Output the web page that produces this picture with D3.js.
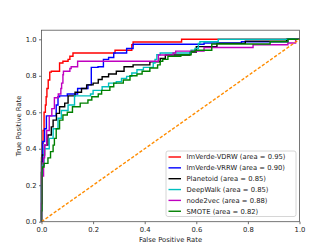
<!DOCTYPE html>
<meta charset="utf-8">
<script src="https://d3js.org/d3.v7.min.js"></script>
<style>
  body { margin: 0; background: #fff; }
  text { font-family: "DejaVu Sans", sans-serif; fill: #222; }
</style>
<div id="roc"></div>
<script>

// ROC points (false positive rate / true positive rate)
var vdrwFpr = [0, 0, 0.003, 0.006, 0.01, 0.015, 0.018, 0.021, 0.026, 0.032, 0.038, 0.07, 0.083, 0.103, 0.11, 0.122, 0.167, 0.285, 0.29, 0.35, 0.355, 0.37, 0.543, 0.545, 1];
var vdrwTpr = [0, 0.2, 0.35, 0.43, 0.5, 0.6, 0.64, 0.685, 0.73, 0.777, 0.82, 0.825, 0.87, 0.88, 0.89, 0.907, 0.925, 0.925, 0.94, 0.94, 0.97, 0.985, 0.985, 1, 1];

var vrrwFpr = [0, 0, 0.005, 0.012, 0.019, 0.032, 0.057, 0.064, 0.07, 0.1, 0.14, 0.18, 0.193, 0.193, 0.219, 0.24, 0.24, 0.26, 0.28, 0.33, 0.355, 0.37, 0.63, 0.635, 0.775, 0.78, 0.955, 0.96, 1];
var vrrwTpr = [0, 0.22, 0.33, 0.44, 0.51, 0.58, 0.58, 0.64, 0.685, 0.69, 0.7, 0.73, 0.75, 0.8, 0.846, 0.85, 0.88, 0.89, 0.9, 0.925, 0.95, 0.973, 0.973, 0.98, 0.98, 0.987, 0.987, 1, 1];

var planetoidFpr = [0, 0.001, 0.012, 0.025, 0.038, 0.045, 0.058, 0.07, 0.09, 0.103, 0.103, 0.13, 0.155, 0.175, 0.2, 0.22, 0.235, 0.26, 0.29, 0.32, 0.355, 0.42, 0.46, 0.48, 0.575, 0.588, 0.6, 0.605, 0.68, 0.68, 0.79, 0.795, 0.95, 0.955, 1];
var planetoidTpr = [0, 0.27, 0.366, 0.42, 0.475, 0.52, 0.557, 0.594, 0.63, 0.65, 0.69, 0.69, 0.71, 0.73, 0.75, 0.76, 0.78, 0.795, 0.81, 0.825, 0.85, 0.86, 0.877, 0.895, 0.914, 0.93, 0.93, 0.96, 0.96, 0.978, 0.978, 0.99, 0.99, 1, 1];

var deepwalkFpr = [0, 0.002, 0.01, 0.03, 0.045, 0.064, 0.077, 0.103, 0.103, 0.128, 0.128, 0.19, 0.2, 0.235, 0.26, 0.29, 0.31, 0.33, 0.35, 0.37, 0.395, 0.433, 0.44, 0.447, 0.46, 0.472, 0.58, 0.595, 0.608, 0.614, 0.627, 0.685, 0.686, 1];
var deepwalkTpr = [0, 0.2, 0.31, 0.4, 0.457, 0.51, 0.567, 0.61, 0.64, 0.64, 0.69, 0.69, 0.7, 0.72, 0.74, 0.76, 0.767, 0.786, 0.797, 0.815, 0.833, 0.846, 0.87, 0.89, 0.915, 0.925, 0.925, 0.94, 0.95, 0.978, 0.987, 0.987, 1, 1];

var node2vecFpr = [0, 0.003, 0.008, 0.012, 0.02, 0.03, 0.04, 0.05, 0.065, 0.075, 0.078, 0.083, 0.085, 0.11, 0.115, 0.14, 0.17, 0.453, 0.46, 0.51, 0.52, 0.63, 0.65, 0.82, 0.825, 0.955, 0.96, 0.985, 0.99, 1];
var node2vecTpr = [0, 0.1, 0.25, 0.35, 0.42, 0.5, 0.58, 0.62, 0.68, 0.7, 0.73, 0.76, 0.806, 0.825, 0.84, 0.85, 0.88, 0.88, 0.914, 0.914, 0.925, 0.935, 0.955, 0.955, 0.97, 0.97, 0.98, 0.98, 1, 1];

var smoteFpr = [0, 0.002, 0.003, 0.01, 0.025, 0.035, 0.045, 0.05, 0.057, 0.07, 0.083, 0.1, 0.12, 0.15, 0.18, 0.195, 0.22, 0.233, 0.265, 0.28, 0.317, 0.343, 0.37, 0.39, 0.395, 0.42, 0.45, 0.46, 0.47, 0.49, 0.54, 0.58, 0.595, 0.6, 0.66, 0.66, 0.886, 0.892, 0.955, 0.957, 1];
var smoteTpr = [0, 0.06, 0.29, 0.3, 0.32, 0.35, 0.384, 0.42, 0.457, 0.51, 0.557, 0.585, 0.6, 0.63, 0.65, 0.667, 0.685, 0.7, 0.72, 0.74, 0.76, 0.777, 0.8, 0.81, 0.825, 0.825, 0.843, 0.86, 0.88, 0.89, 0.907, 0.915, 0.934, 0.94, 0.94, 0.965, 0.974, 0.987, 0.987, 1, 1];

var labels = ["ImVerde-VDRW (area = 0.95)", "ImVerde-VRRW (area = 0.90)", "Planetoid (area = 0.85)",
              "DeepWalk (area = 0.85)", "node2vec (area = 0.88)", "SMOTE (area = 0.82)"];
var fprs = [vdrwFpr, vrrwFpr, planetoidFpr, deepwalkFpr, node2vecFpr, smoteFpr];
var tprs = [vdrwTpr, vrrwTpr, planetoidTpr, deepwalkTpr, node2vecTpr, smoteTpr];
var colors = ["#ff0000", "#0000ff", "#000000", "#00bfbf", "#bf00bf", "#008000"];

var ticks = [0, 0.2, 0.4, 0.6, 0.8, 1.0];
var chanceLine = [0, 1];

// layout
var margin = {top: 30.2, right: 32.5, bottom: 27.3, left: 41.5},
    width = 332 - margin.left - margin.right,
    height = 249 - margin.top - margin.bottom;

var svg = d3.select("#roc")
  .append("svg")
    .attr("width", 332)
    .attr("height", 249)
  .append("g")
    .attr("transform", "translate(" + margin.left + "," + margin.top + ")");

var x = d3.scaleLinear().domain([0, 1]).range([0, width]);
var y = d3.scaleLinear().domain([0, 1.05]).range([height, 0]);

var fmt = d3.format(".1f");

var xAxis = svg.append("g")
  .attr("transform", "translate(0," + height + ")")
  .call(d3.axisBottom(x).tickValues(ticks).tickFormat(fmt).tickSize(2.5).tickPadding(2.5));
var yAxis = svg.append("g")
  .call(d3.axisLeft(y).tickValues(ticks).tickFormat(fmt).tickSize(2.5).tickPadding(2.5));

[xAxis, yAxis].forEach(function(a) {
  a.select(".domain").remove();
  a.selectAll(".tick line").attr("stroke", "#333").attr("stroke-width", 0.7);
  a.selectAll(".tick text")
    .style("font-family", "DejaVu Sans")
    .style("font-size", "6.8px")
    .attr("fill", "#222");
});

// curves: roc points joined as a staircase (up, then across)
var line = d3.line()
  .curve(d3.curveStepBefore)
  .x(function(d) { return x(d[0]); })
  .y(function(d) { return y(d[1]); });

for (var i = 0; i < labels.length; i++) {
  var pts = fprs[i].map(function(f, j) { return [f, tprs[i][j]]; });
  svg.append("path")
    .datum(pts)
    .attr("d", line)
    .attr("fill", "none")
    .attr("stroke", colors[i])
    .attr("stroke-width", 1.4)
    .attr("stroke-linejoin", "miter");
}

// chance diagonal
var diag = d3.line()
  .x(function(d) { return x(d[0]); })
  .y(function(d) { return y(d[1]); });

svg.append("path")
  .datum(chanceLine.map(function(v) { return [v, v]; }))
  .attr("d", diag)
  .attr("fill", "none")
  .attr("stroke", "#ff8c00")
  .attr("stroke-width", 1.4)
  .attr("stroke-dasharray", "3.2,1.8");

// frame
svg.append("rect")
  .attr("x", 0).attr("y", 0)
  .attr("width", width).attr("height", height)
  .attr("fill", "none")
  .attr("stroke", "#555")
  .attr("stroke-width", 0.8);

// axis titles
svg.append("text")
  .attr("x", width / 2)
  .attr("y", height + 20)
  .attr("text-anchor", "middle")
  .style("font-size", "6.8px")
  .text("False Positive Rate");

svg.append("text")
  .attr("transform", "translate(" + (18.5 - margin.left + 2.3) + "," + (height / 2) + ") rotate(-90)")
  .attr("text-anchor", "middle")
  .style("font-size", "6.8px")
  .text("True Positive Rate");

// legend
var legend = svg.append("g")
  .attr("transform", "translate(" + (166 - margin.left) + "," + (151 - margin.top) + ")");

legend.append("rect")
  .attr("width", 130)
  .attr("height", 65.5)
  .attr("rx", 2)
  .attr("fill", "#fff")
  .attr("fill-opacity", 0.8)
  .attr("stroke", "#ccc")
  .attr("stroke-width", 0.8);

var rows = legend.selectAll("g.row")
  .data(labels)
  .enter()
  .append("g")
  .attr("class", "row")
  .attr("transform", function(d, i) { return "translate(0," + (6 + i * 10.85) + ")"; });

rows.append("line")
  .attr("x1", 2.5).attr("x2", 15)
  .attr("stroke", function(d, i) { return colors[i]; })
  .attr("stroke-width", 1.4);

rows.append("text")
  .attr("x", 20.5)
  .attr("dy", "0.35em")
  .style("font-size", "6.8px")
  .text(function(d) { return d; });

</script>
